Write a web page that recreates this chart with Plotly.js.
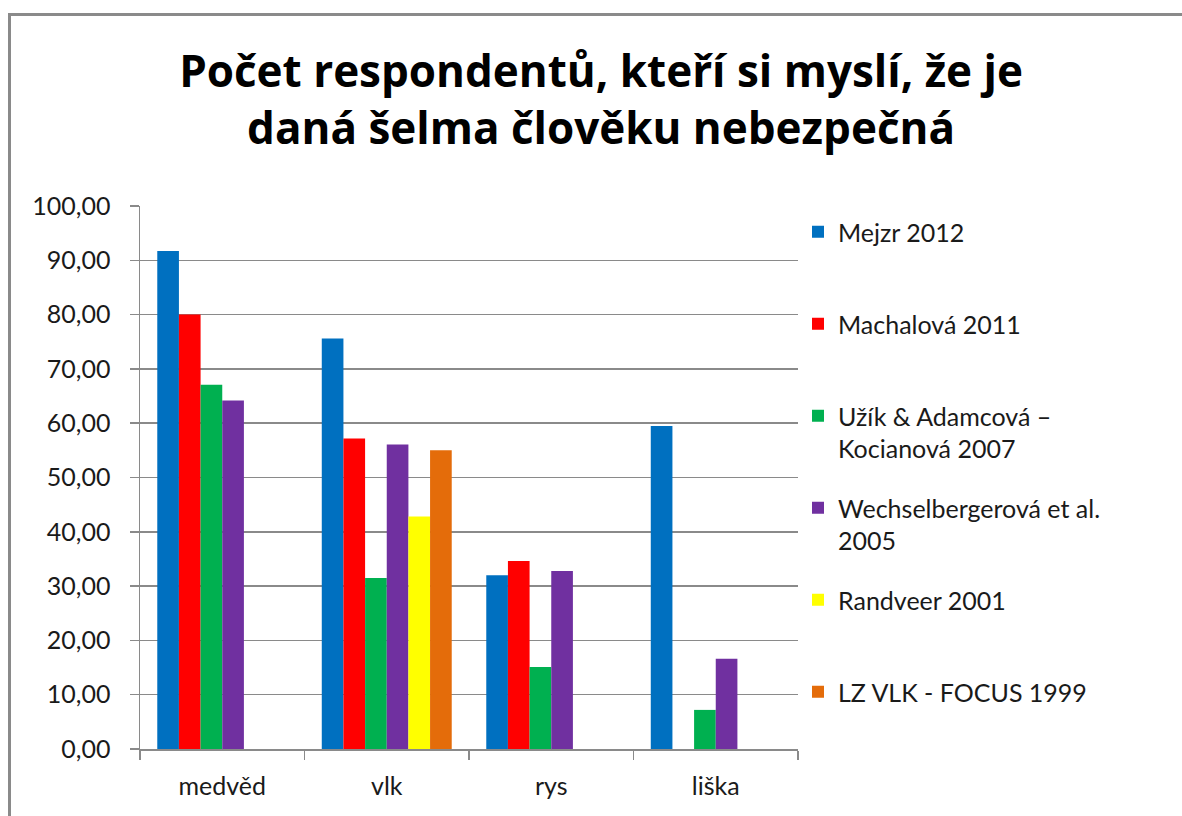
<!DOCTYPE html>
<html>
<head>
<meta charset="utf-8">
<script src="https://cdn.plot.ly/plotly-3.0.1.min.js"></script>
<style>
  html, body { margin: 0; padding: 0; background: #fff; }
  #wrap { position: relative; width: 1182px; height: 816px; overflow: hidden; }
  #chart { position: absolute; left: 0; top: 0; width: 1182px; height: 816px; }
  #frame { position: absolute; left: 8px; top: 13px; width: 1200px; height: 900px;
           border-left: 3px solid #8a8a8a; border-top: 3px solid #8a8a8a; pointer-events: none; }
</style>
</head>
<body>
<div id="wrap">
  <div id="chart"></div>
  <div id="frame"></div>
</div>
<script>
const categories = ["medvěd", "vlk", "rys", "liška"];

const mejzr2012      = [91.7, 75.6, 32.0, 59.5];
const machalova2011  = [80.0, 57.2, 34.6, null];
const uzik2007       = [67.1, 31.5, 15.1, 7.2];
const wechsel2005    = [64.2, 56.1, 32.8, 16.6];
const randveer2001   = [null, 42.8, null, null];
const lzvlk1999      = [null, 55.0, null, null];

const seriesNames = [
  "Mejzr 2012<br>\u00a0",
  "Machalová 2011<br>\u00a0",
  "Užík & Adamcová –<br>Kocianová 2007",
  "Wechselbergerová et al.<br>2005",
  "Randveer 2001<br>\u00a0",
  "LZ VLK - FOCUS 1999<br>\u00a0"
];
const seriesValues = [mejzr2012, machalova2011, uzik2007, wechsel2005, randveer2001, lzvlk1999];
const seriesColors = ["#0070C0", "#FF0000", "#00B050", "#7030A0", "#FFFF00", "#E46C0A"];

const traces = seriesValues.map((vals, i) => ({
  type: "bar",
  name: seriesNames[i],
  x: categories,
  y: vals,
  legendgroup: "g" + i,
  marker: { color: seriesColors[i], line: { width: 0 } },
  hoverinfo: "x+y"
}));

const axisGray = "#8a8a8a";
const font = "Lato, 'Open Sans', sans-serif";

const layout = {
  width: 1182,
  height: 816,
  paper_bgcolor: "#ffffff",
  plot_bgcolor: "#ffffff",
  separators: ", ",
  margin: { l: 140, r: 384, t: 206, b: 67, pad: 0 },
  barmode: "group",
  bargap: 0.21,
  bargroupgap: 0,
  title: {
    text: "Počet respondentů, kteří si myslí, že je<br>daná šelma člověku nebezpečná",
    font: { family: "'Open Sans', Lato, sans-serif", size: 44, color: "#000000", weight: "bold" },
    x: 0.5085, xref: "container", xanchor: "center",
    y: 1 - 87 / 816, yref: "container", yanchor: "middle"
  },
  xaxis: {
    type: "category",
    tickson: "boundaries",
    ticks: "outside",
    ticklen: 9,
    tickcolor: axisGray,
    tickwidth: 1.5,
    showline: true,
    linecolor: axisGray,
    linewidth: 1.5,
    showgrid: false,
    tickfont: { family: font, size: 25, color: "#1a1a1a" },
    ticklabelstandoff: 14
  },
  yaxis: {
    range: [0, 100],
    dtick: 10,
    tick0: 0,
    tickformat: ".2f",
    ticks: "outside",
    ticklen: 9,
    tickcolor: axisGray,
    tickwidth: 1.5,
    showline: true,
    linecolor: axisGray,
    linewidth: 1.5,
    showgrid: true,
    gridcolor: axisGray,
    gridwidth: 1.5,
    zeroline: false,
    tickfont: { family: font, size: 25, color: "#1a1a1a" },
    ticklabelstandoff: 14
  },
  showlegend: true,
  legend: {
    x: 1.0, xref: "paper", xanchor: "left",
    y: 1 - 3 / 543, yref: "paper", yanchor: "top",
    font: { family: font, size: 25, color: "#1a1a1a" },
    valign: "top",
    traceorder: "grouped",
    tracegroupgap: 24,
    bgcolor: "rgba(0,0,0,0)",
    borderwidth: 0
  }
};

Plotly.newPlot("chart", traces, layout, { displayModeBar: false, staticPlot: true });
</script>
</body>
</html>
